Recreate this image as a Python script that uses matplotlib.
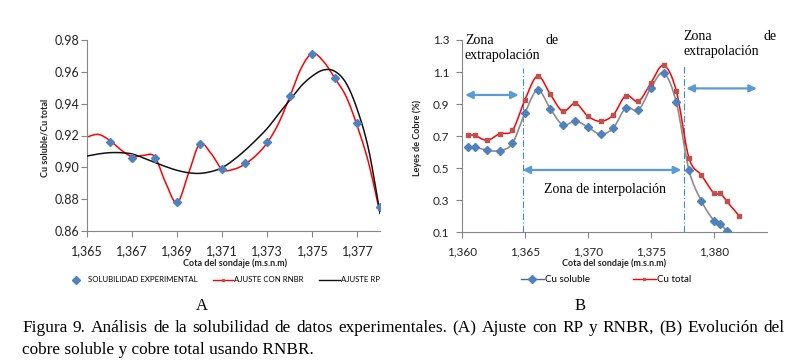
import numpy as np
import matplotlib
matplotlib.use("Agg")
import matplotlib.pyplot as plt
from matplotlib.lines import Line2D

# ---------------- data: panel A ----------------
cota_a = [1366, 1367, 1368, 1369, 1370, 1371, 1372, 1373, 1374, 1375, 1376, 1377, 1378]
solub_exp = [0.916, 0.906, 0.906, 0.878, 0.9145, 0.899, 0.903, 0.916, 0.945, 0.971, 0.956, 0.928, 0.875]

cota_fit = [1365, 1365.5, 1366, 1366.5, 1367, 1367.5, 1368, 1368.5, 1369, 1369.5, 1370, 1370.5,
            1371, 1371.5, 1372, 1372.5, 1373, 1373.5, 1374, 1374.5, 1375, 1375.5, 1376, 1376.5,
            1377, 1377.5, 1378]
ajuste_rnbr = [0.919, 0.9207, 0.917, 0.911, 0.9067, 0.9075, 0.9067, 0.890, 0.8778, 0.896, 0.9147, 0.9088,
               0.8987, 0.8987, 0.902, 0.9075, 0.9155, 0.9276, 0.9444, 0.9622, 0.9716, 0.9664, 0.9559, 0.9444,
               0.9256, 0.9025, 0.8711]
ajuste_rp = [0.9071, 0.9084, 0.9092, 0.9092, 0.9084, 0.9059, 0.9031, 0.9004, 0.8981, 0.8966, 0.8962, 0.8973,
             0.8998, 0.9046, 0.9105, 0.9172, 0.9245, 0.9335, 0.9423, 0.9511, 0.9574, 0.9612, 0.9603, 0.9528,
             0.936, 0.9109, 0.8711]
yticks_a = [0.86, 0.88, 0.90, 0.92, 0.94, 0.96, 0.98]
xticks_a = [1365, 1367, 1369, 1371, 1373, 1375, 1377]

# ---------------- data: panel B ----------------
cota_sol = [1360.5, 1361, 1362, 1363, 1364, 1365, 1366, 1367, 1368, 1369, 1370, 1371, 1372,
            1373, 1374, 1375, 1376, 1377, 1378, 1379, 1380, 1380.5, 1381]
cu_soluble = [0.632, 0.632, 0.612, 0.610, 0.655, 0.845, 0.988, 0.872, 0.770, 0.795, 0.755, 0.712, 0.751,
              0.876, 0.863, 1.003, 1.094, 0.913, 0.491, 0.295, 0.171, 0.150, 0.110]
cota_tot = [1360.5, 1361, 1362, 1363, 1364, 1365, 1366, 1367, 1368, 1369, 1370, 1371, 1372,
            1373, 1374, 1375, 1376, 1377, 1378, 1379, 1380, 1380.5, 1381, 1382]
cu_total = [0.705, 0.705, 0.674, 0.716, 0.736, 0.928, 1.075, 0.963, 0.855, 0.905, 0.824, 0.793, 0.832,
            0.953, 0.917, 1.034, 1.142, 0.984, 0.566, 0.456, 0.343, 0.343, 0.294, 0.202]
yticks_b = [0.1, 0.3, 0.5, 0.7, 0.9, 1.1, 1.3]
xticks_b = [1360, 1365, 1370, 1375, 1380]
zone_limits = [1364.87, 1377.65]
zone_line_tops = [1.125, 1.144]

caption_1 = "Figura 9. Análisis de la solubilidad de datos experimentales. (A) Ajuste con RP y RNBR, (B) Evolución del"
caption_2 = "cobre soluble y cobre total usando RNBR."

W, H = 806, 361


def smooth(x, y, n=20):
    """Excel-style smoothed line (Catmull-Rom / Bezier) through the given points."""
    x = np.asarray(x, float)
    y = np.asarray(y, float)
    px = np.concatenate([[x[0]], x, [x[-1]]])
    py = np.concatenate([[y[0]], y, [y[-1]]])
    outx, outy = [], []
    t = np.linspace(0, 1, n)
    for i in range(1, len(px) - 2):
        p0x, p1x, p2x, p3x = px[i - 1], px[i], px[i + 1], px[i + 2]
        p0y, p1y, p2y, p3y = py[i - 1], py[i], py[i + 1], py[i + 2]
        c1x, c1y = p1x + (p2x - p0x) / 6, p1y + (p2y - p0y) / 6
        c2x, c2y = p2x - (p3x - p1x) / 6, p2y - (p3y - p1y) / 6
        bx = (1 - t) ** 3 * p1x + 3 * (1 - t) ** 2 * t * c1x + 3 * (1 - t) * t ** 2 * c2x + t ** 3 * p2x
        by = (1 - t) ** 3 * p1y + 3 * (1 - t) ** 2 * t * c1y + 3 * (1 - t) * t ** 2 * c2y + t ** 3 * p2y
        outx.extend(bx if i == 1 else bx[1:])
        outy.extend(by if i == 1 else by[1:])
    return np.array(outx), np.array(outy)


def fx(px):
    return px / W


def fy(py):
    return 1 - py / H


sans = ["Lato", "DejaVu Sans"]
serif = ["Liberation Serif", "DejaVu Serif"]
axis_gray = "#868686"
blue = "#4F81BD"
light_blue = "#5B9BD5"

fig = plt.figure(figsize=(W / 100, H / 100), dpi=100)
fig.patch.set_facecolor("white")


def style_axes(ax, fs, pad_y, pad_x):
    for s in ("top", "right"):
        ax.spines[s].set_visible(False)
    for s in ("left", "bottom"):
        ax.spines[s].set_color(axis_gray)
        ax.spines[s].set_linewidth(0.8)
    ax.tick_params(axis="both", direction="out", length=4, width=0.8, color=axis_gray,
                   labelsize=fs, labelcolor="#222222")
    ax.tick_params(axis="y", pad=pad_y)
    ax.tick_params(axis="x", pad=pad_x)
    for lab in ax.get_xticklabels() + ax.get_yticklabels():
        lab.set_fontfamily(sans)


# ---------------- Panel A ----------------
axA = fig.add_axes([fx(87), fy(231), fx(380) - fx(87), fy(40) - fy(231)])
rx, ry = smooth(cota_fit, ajuste_rnbr, 12)
bx, by = smooth(cota_fit, ajuste_rp, 12)
axA.plot(rx, ry, color="#FF0000", lw=1.1, zorder=2)
axA.plot(bx, by, color="#111111", lw=1.1, zorder=3)
axA.plot(cota_a, solub_exp, linestyle="none", marker="D", ms=4.3, color=blue, zorder=4)
axA.set_xlim(1365, 1378)
axA.set_ylim(0.86, 0.98)
axA.set_yticks(yticks_a)
axA.set_yticklabels([f"{v:.2f}" for v in yticks_a])
axA.set_xticks(xticks_a)
axA.set_xticklabels([f"{v:,}" for v in xticks_a])
style_axes(axA, 9, 1.5, 6)

fig.text(fx(45), fy(138), "Cu soluble/Cu total", rotation=90, ha="center", va="center",
         fontsize=6.5, fontweight="bold", family=sans, color="#222222")
fig.text(fx(235), fy(263), "Cota del sondaje (m.s.n.m)", ha="center", va="center",
         fontsize=6.5, fontweight="bold", family=sans, color="#222222")

handles_a = [
    Line2D([], [], linestyle="none", marker="D", ms=4, color=blue),
    Line2D([], [], color="#FF0000", lw=1, marker="s", ms=2, mfc="#C0504D", mec="#C0504D"),
    Line2D([], [], color="#111111", lw=1),
]
legA = fig.legend(handles_a, ["SOLUBILIDAD EXPERIMENTAL", "AJUSTE CON RNBR", "AJUSTE RP"],
                  loc="center", bbox_to_anchor=(fx(223), fy(280)), ncol=3, frameon=False,
                  prop={"family": sans, "size": 5.6}, handlelength=2.6, columnspacing=2.0,
                  handletextpad=0.15)

# ---------------- Panel B ----------------
axB = fig.add_axes([fx(462), fy(232.3), fx(767) - fx(462), fy(40) - fy(232.3)])
sx, sy = smooth(cota_sol, cu_soluble, 12)
tx, ty = smooth(cota_tot, cu_total, 12)
axB.plot(sx, sy, color="#8C8C8C", lw=1.2, zorder=2)
axB.plot(tx, ty, color="#FF0000", lw=1.1, zorder=3)
axB.plot(cota_sol, cu_soluble, linestyle="none", marker="D", ms=4.3, color=blue, zorder=4)
axB.plot(cota_tot, cu_total, linestyle="none", marker="s", ms=3, color="#C0504D", zorder=5)
axB.set_xlim(1360, 1384.2)
axB.set_ylim(0.1, 1.3)
axB.set_yticks(yticks_b)
axB.set_yticklabels([f"{v:.1f}" for v in yticks_b])
axB.set_xticks(xticks_b)
axB.set_xticklabels([f"{v:,}" for v in xticks_b])
style_axes(axB, 8.5, 5, 6)

for xz, top in zip(zone_limits, zone_line_tops):
    axB.plot([xz, xz], [0.1, top], color="#3B8ED6", lw=0.8, linestyle=(0, (6, 2, 1, 2)), zorder=1)

arrow_kw = dict(arrowstyle="<|-|>", color=light_blue, lw=1.6, mutation_scale=11,
                shrinkA=0, shrinkB=0)
axB.annotate("", xy=(1360.25, 0.957), xytext=(1364.5, 0.957), arrowprops=arrow_kw)
axB.annotate("", xy=(1377.8, 0.998), xytext=(1383.4, 0.998), arrowprops=arrow_kw)
axB.annotate("", xy=(1364.8, 0.489), xytext=(1377.4, 0.489), arrowprops=arrow_kw)

zfs = 10
fig.text(fx(465), fy(40), "Zona", ha="left", va="center", fontsize=zfs, family=serif)
fig.text(fx(559), fy(40), "de", ha="right", va="center", fontsize=zfs, family=serif)
fig.text(fx(465), fy(56), "extrapolación", ha="left", va="center", fontsize=zfs, family=serif)
fig.text(fx(683), fy(37), "Zona", ha="left", va="center", fontsize=zfs, family=serif)
fig.text(fx(777), fy(37), "de", ha="right", va="center", fontsize=zfs, family=serif)
fig.text(fx(683), fy(52), "extrapolación", ha="left", va="center", fontsize=zfs, family=serif)
fig.text(fx(605), fy(190), "Zona de interpolación", ha="center", va="center", fontsize=zfs, family=serif)

fig.text(fx(417), fy(138), "Leyes de Cobre (%)", rotation=90, ha="center", va="center",
         fontsize=6.5, fontweight="bold", family=sans, color="#222222")
fig.text(fx(614), fy(263), "Cota del sondaje (m.s.n.m)", ha="center", va="center",
         fontsize=6.5, fontweight="bold", family=sans, color="#222222")

handles_b = [
    Line2D([], [], color="#4A6A9A", lw=1, marker="D", ms=4, mfc=blue, mec=blue),
    Line2D([], [], color="#FF0000", lw=1, marker="s", ms=2, mfc="#C0504D", mec="#C0504D"),
]
legB = fig.legend(handles_b, ["Cu soluble", "Cu total"],
                  loc="center", bbox_to_anchor=(fx(606), fy(280)), ncol=2, frameon=False,
                  prop={"family": sans, "size": 7}, handlelength=2.3, columnspacing=4.5,
                  handletextpad=0.1)

# ---------------- labels & caption ----------------
fig.text(fx(202), fy(306), "A", ha="center", va="center", fontsize=12, family=serif)
fig.text(fx(580), fy(306), "B", ha="center", va="center", fontsize=12, family=serif)

cap_fs = 12.4
renderer = fig.canvas.get_renderer()


def justified(text, x0, x1, ypx):
    words = text.split(" ")
    objs = [fig.text(0, fy(ypx), w, ha="left", va="center", fontsize=cap_fs, family=serif) for w in words]
    widths = [o.get_window_extent(renderer).width for o in objs]
    gap = ((x1 - x0) - sum(widths)) / (len(words) - 1)
    x = x0
    for o, w in zip(objs, widths):
        o.set_x(fx(x))
        x += w + gap


justified(caption_1, 22, 785, 328)
fig.text(fx(22), fy(350), caption_2, ha="left", va="center", fontsize=cap_fs, family=serif)

fig.savefig("out.png", dpi=100, facecolor="white")
